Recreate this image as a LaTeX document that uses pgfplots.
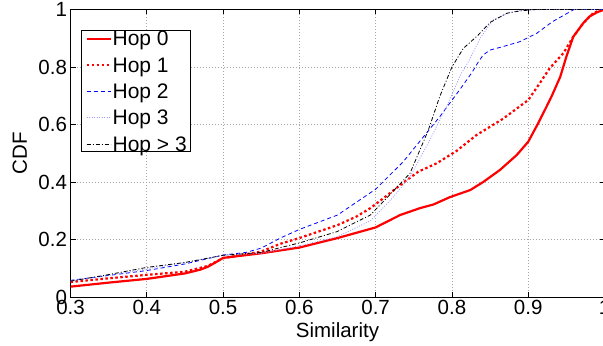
\documentclass[border=0pt]{standalone}
\usepackage{fontspec}
\setmainfont{Liberation Sans}
\usepackage{pgfplots}
\pgfplotsset{compat=1.18}
\definecolor{hopthree}{rgb}{0.62,0.62,1}
\begin{document}
\begin{tikzpicture}
\begin{axis}[
  scale only axis, width=534pt, height=287.5pt,
  xmin=0.3, xmax=1, ymin=0, ymax=1,
  xtick={0.3,0.4,0.5,0.6,0.7,0.8,0.9,1},
  xticklabels={0.3,0.4,0.5,0.6,0.7,0.8,0.9,1},
  ytick={0,0.2,0.4,0.6,0.8,1},
  yticklabels={0,0.2,0.4,0.6,0.8,1},
  tick align=inside, major tick length=5pt,
  tick style={black, line width=0.6pt},
  axis line style={black, line width=0.8pt},
  grid=major, major grid style={gray!70, line width=0.6pt, dash pattern=on 0.8pt off 2.2pt},
  ticklabel style={font=\fontsize{20.5}{24}\selectfont},
  label style={font=\fontsize{20.5}{24}\selectfont},
  xlabel={Similarity}, ylabel={CDF},
  xlabel style={at={(axis description cs:0.5,0)}, anchor=base, yshift=-40pt},
  ylabel style={at={(axis description cs:-0.0815,0.5)}, anchor=base},
  legend image code/.code={\draw[#1] (0pt,0pt) -- (24pt,0pt);},
  legend style={at={(axis description cs:0.0197,0.927)}, anchor=north west,
    draw=black, line width=0.8pt, fill=white,
    font=\fontsize{21}{24}\selectfont,
    inner xsep=4pt, inner ysep=0.5pt,
    nodes={inner sep=0pt, text height=14.5pt, text depth=0pt},
    row sep=11.85pt, column sep=1pt},
  legend cell align=left,
]
\addplot[red, line width=2.2pt] coordinates {
(0.30,0.036) (0.35,0.050) (0.40,0.063) (0.45,0.082) (0.47,0.095) (0.48,0.105)
(0.49,0.120) (0.50,0.136) (0.55,0.152) (0.60,0.172) (0.65,0.205) (0.70,0.242)
(0.732,0.285) (0.758,0.309) (0.776,0.322) (0.797,0.347) (0.824,0.372) (0.841,0.400)
(0.863,0.442) (0.885,0.494) (0.900,0.540) (0.913,0.604) (0.924,0.662) (0.931,0.700)
(0.942,0.766) (0.950,0.836) (0.959,0.905) (0.972,0.952) (0.980,0.975) (0.990,0.990) (1.0,1.0)};
\addlegendentry{Hop 0}
\addplot[red, line width=2.2pt, dash pattern=on 2.5pt off 2.5pt] coordinates {
(0.30,0.052) (0.35,0.065) (0.40,0.077) (0.45,0.088) (0.48,0.108) (0.50,0.135)
(0.55,0.158) (0.575,0.185) (0.60,0.205) (0.65,0.250) (0.675,0.280) (0.693,0.309)
(0.71,0.343) (0.723,0.370) (0.74,0.405) (0.756,0.436) (0.78,0.465) (0.806,0.508)
(0.832,0.563) (0.867,0.620) (0.90,0.685) (0.915,0.743) (0.928,0.795) (0.946,0.848)
(0.959,0.905) (0.972,0.952) (0.985,0.987) (0.996,1.0)};
\addlegendentry{Hop 1}
\addplot[blue, line width=0.8pt, dash pattern=on 4pt off 3pt] coordinates {
(0.30,0.058) (0.35,0.075) (0.40,0.092) (0.45,0.115) (0.50,0.146) (0.53,0.155)
(0.55,0.170) (0.575,0.205) (0.60,0.235) (0.65,0.285) (0.70,0.375) (0.736,0.470)
(0.762,0.555) (0.784,0.627) (0.81,0.720) (0.826,0.780) (0.834,0.815) (0.841,0.842)
(0.85,0.859) (0.867,0.871) (0.889,0.888) (0.911,0.917) (0.932,0.958) (0.96,1.0) (1.0,1.0)};
\addlegendentry{Hop 2}
\addplot[hopthree, line width=0.8pt, dash pattern=on 1pt off 1.5pt] coordinates {
(0.30,0.055) (0.35,0.075) (0.40,0.098) (0.45,0.120) (0.50,0.145) (0.55,0.152)
(0.60,0.178) (0.65,0.210) (0.693,0.265) (0.719,0.335) (0.745,0.418) (0.771,0.546)
(0.793,0.662) (0.81,0.766) (0.824,0.830) (0.837,0.900) (0.854,0.965) (0.876,0.990)
(0.893,0.998) (0.92,1.0) (1.0,1.0)};
\addlegendentry{Hop 3}
\addplot[black, line width=0.8pt, dash pattern=on 4pt off 2pt on 1pt off 2pt] coordinates {
(0.30,0.055) (0.35,0.078) (0.40,0.103) (0.45,0.120) (0.50,0.145) (0.55,0.155)
(0.60,0.188) (0.649,0.227) (0.693,0.285) (0.714,0.343) (0.745,0.430) (0.769,0.580)
(0.784,0.697) (0.80,0.800) (0.815,0.865) (0.834,0.910) (0.85,0.955) (0.872,0.987)
(0.889,0.995) (0.91,1.0) (1.0,1.0)};
\addlegendentry{Hop > 3}
\end{axis}
\pgfresetboundingbox
\path ([shift={(-70.5pt,-48pt)}]current axis.south west) rectangle ([shift={(-1.5pt,9.5pt)}]current axis.north east);
\end{tikzpicture}
\end{document}
